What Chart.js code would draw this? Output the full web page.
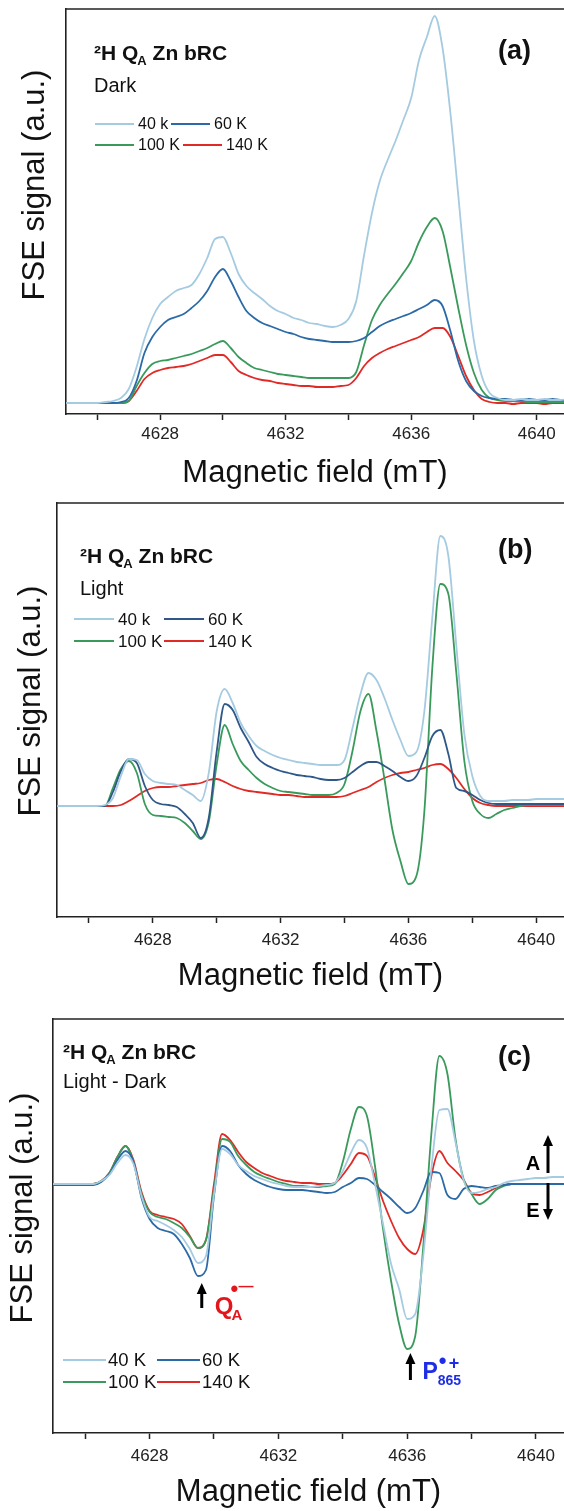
<!DOCTYPE html>
<html>
<head>
<meta charset="utf-8">
<script src="https://cdn.jsdelivr.net/npm/chart.js@4.4.1/dist/chart.umd.min.js"></script>
<style>
  html, body { margin: 0; padding: 0; background: #fff; overflow: hidden; }
  body { width: 564px; height: 1511px; position: relative; }
  .panel { position: absolute; left: 0; width: 564px; }
  canvas { display: block; }
</style>
</head>
<body>
<div class="panel" style="top:0"><canvas id="chartA" width="564" height="495"></canvas></div>
<div class="panel" style="top:495px"><canvas id="chartB" width="564" height="505"></canvas></div>
<div class="panel" style="top:1000px"><canvas id="chartC" width="564" height="511"></canvas></div>
<script>
// Magnetic field (mT), 0.25 mT steps
const field = [
  4625, 4625.25, 4625.5, 4625.75, 4626, 4626.25, 4626.5, 4626.75, 4627, 4627.25, 4627.5, 4627.75, 4628,
  4628.25, 4628.5, 4628.75, 4629, 4629.25, 4629.5, 4629.75, 4630, 4630.25, 4630.5, 4630.75, 4631, 4631.25,
  4631.5, 4631.75, 4632, 4632.25, 4632.5, 4632.75, 4633, 4633.25, 4633.5, 4633.75, 4634, 4634.25, 4634.5,
  4634.75, 4635, 4635.25, 4635.5, 4635.75, 4636, 4636.25, 4636.5, 4636.75, 4637, 4637.25, 4637.5, 4637.75,
  4638, 4638.25, 4638.5, 4638.75, 4639, 4639.25, 4639.5, 4639.75, 4640, 4640.25, 4640.5, 4640.75, 4641
];
const tickFields = [4626, 4628, 4630, 4632, 4634, 4636, 4638, 4640];
const labelFields = [4628, 4632, 4636, 4640];
const xMax = 4640.87;

// (a) Dark
const dark40 = [0,0,0,0,0,1,2,5,14,36,64,85,99,
  106,112,115,118,129,145,164,166,150,129,117,110,104,
  97,92,89,85,83,80,79,77,76,78,84,102,148,
  190,222,243,262,283,305,343,366,387,355,290,208,125,
  62,27,10,5,3,3,4,3,3,4,3,3,4];
const dark60 = [0,0,0,0,0,0,0,1,5,22,50,66,76,
  83,86,89,95,102,112,126,134,122,106,92,85,80,
  77,74,71,69,66,64,63,62,61,61,61,62,65,
  71,77,81,84,87,90,94,98,103,97,72,42,22,
  12,7,5,4,4,3,3,4,3,3,4,3,3];
const dark100 = [0,0,0,0,0,0,0,0,2,17,30,39,42,
  43,45,47,49,52,55,59,62,55,46,40,35,33,
  31,29,28,27,26,25,25,25,25,25,25,31,58,
  83,98,109,119,130,142,161,176,185,172,135,95,58,
  30,13,5,3,2,2,2,1,1,1,1,1,1];
const dark140 = [0,0,0,0,0,0,0,0,2,12,24,30,33,
  35,36,37,39,42,45,48,48,41,32,28,25,23,
  22,20,19,18,17,17,16,16,16,17,18,25,37,
  45,50,54,57,60,63,66,71,75,75,66,47,27,
  13,4,1,0,0,-1,0,0,0,-1,0,0,0];

// (b) Light
const light40 = [0,0,0,0,0,0,1,8,30,47,46,32,25,
  23,22,21,16,11,5,33,95,117,103,83,70,60,
  55,51,48,46,44,43,42,41,41,41,46,78,112,
  133,126,108,86,66,50,54,95,189,270,250,160,72,
  30,10,5,5,5,6,6,6,7,7,7,7,7];
const light60 = [0,0,0,0,0,0,0,14,35,47,43,20,6,
  2,1,-1,-8,-17,-32,-12,55,102,96,78,64,49,
  42,38,35,33,31,30,29,27,26,26,28,34,40,
  44,44,40,35,29,25,30,48,70,76,52,18,15,
  11,6,3,2,2,2,2,2,2,2,2,2,2];
const light100 = [0,0,0,0,0,0,0,18,37,45,33,2,-9,
  -10,-11,-12,-17,-25,-33,-16,42,81,62,45,36,28,
  22,18,15,14,13,12,11,11,11,13,22,55,95,
  112,75,27,-24,-55,-78,-70,-5,139,222,212,133,45,
  5,-8,-12,-8,-4,-2,0,1,1,1,1,1,1];
const light140 = [0,0,0,0,0,0,0,0,1,5,10,15,18,
  19,19,20,21,22,23,26,27,24,20,17,15,14,
  13,12,11,11,10,9,9,9,9,9,10,13,16,
  19,24,28,31,33,34,36,38,41,42,37,28,17,
  8,3,1,0,0,0,0,0,0,0,0,0,0];

// (c) Light - Dark
const diff40 = [0,0,0,0,0,0,3,9,21,29,20,-12,-33,
  -37,-41,-46,-53,-65,-79,-72,-10,35,30,19,13,8,
  5,2,0,-2,-3,-3,-3,-2,-1,1,13,31,44,
  36,0,-40,-80,-105,-135,-130,-72,15,74,75,42,4,
  -9,-8,-5,-3,1,3,4,5,6,6,7,7,7];
const diff60 = [-1,-1,-1,-1,-1,-1,2,10,24,33,22,-14,-35,
  -44,-47,-50,-60,-74,-92,-86,-12,38,33,19,10,4,
  0,-3,-5,-6,-6,-6,-7,-8,-9,-8,-3,1,6,
  5,-1,-8,-15,-23,-29,-24,-7,12,11,-11,-15,-5,
  -2,-3,-4,-2,-1,0,0,0,0,0,0,0,0];
const diff100 = [0,0,0,0,0,0,3,11,27,38,22,-10,-28,
  -33,-35,-39,-44,-53,-64,-56,-5,45,42,28,19,12,
  8,5,2,0,-2,-2,-3,-3,-2,0,22,55,77,
  68,18,-45,-97,-140,-165,-152,-62,50,128,110,45,5,
  -10,-20,-15,-6,-2,0,0,0,0,0,0,0,0];
const diff140 = [0,0,0,0,0,0,3,11,27,38,24,-8,-27,
  -31,-33,-35,-40,-52,-64,-56,0,50,44,32,22,16,
  11,8,5,3,2,1,1,0,0,1,9,20,31,
  28,7,-17,-37,-54,-65,-70,-46,8,33,21,13,4,
  -9,-11,-8,-4,-1,0,0,0,0,0,0,0,0];

const labelsAB = ['40 k', '60 K', '100 K', '140 K'];
const labelsC = ['40 K', '60 K', '100 K', '140 K'];

const FONT = 'Arial, "Liberation Sans", Helvetica, sans-serif';
const LIGHTBLUE = '#a5cbe1', GREEN = '#3a9a5c', RED = '#e02a26';

function sampleName(ctx, x, y, size) {
  ctx.textAlign = 'left';
  ctx.textBaseline = 'alphabetic';
  ctx.font = `bold ${size}px ${FONT}`;
  ctx.fillText('\u00B2H Q', x, y);
  x += ctx.measureText('\u00B2H Q').width;
  ctx.font = `bold ${Math.round(size * 0.62)}px ${FONT}`;
  ctx.fillText('A', x - 1, y + size * 0.25);
  x += ctx.measureText('A').width - 1;
  ctx.font = `bold ${size}px ${FONT}`;
  ctx.fillText(' Zn bRC', x, y);
}

function arrow(ctx, x, y0, y1) {
  const dir = y1 < y0 ? 1 : -1;
  ctx.lineWidth = 3;
  ctx.beginPath();
  ctx.moveTo(x, y0);
  ctx.lineTo(x, y1 + dir * 8);
  ctx.stroke();
  ctx.beginPath();
  ctx.moveTo(x, y1);
  ctx.lineTo(x - 5, y1 + dir * 11);
  ctx.lineTo(x + 5, y1 + dir * 11);
  ctx.closePath();
  ctx.fill();
}

const decor = {
  id: 'decor',
  afterDraw(chart, args, d) {
    const { ctx, chartArea: ca } = chart;
    const xs = chart.scales.x, ys = chart.scales.y;
    ctx.save();
    // top edge of the frame
    ctx.strokeStyle = '#222';
    ctx.lineWidth = 1.6;
    ctx.beginPath();
    ctx.moveTo(ca.left - 0.8, ca.top);
    ctx.lineTo(ca.right, ca.top);
    ctx.stroke();

    ctx.fillStyle = '#111';
    sampleName(ctx, d.nameX, d.nameY, 21);
    ctx.font = `20px ${FONT}`;
    ctx.fillText(d.cond, d.nameX, d.condY);

    ctx.font = `bold 27px ${FONT}`;
    ctx.textBaseline = 'middle';
    ctx.fillText(d.letter, 498, d.letterY);

    // legend, two items per row
    const lg = d.legend;
    ctx.font = `${lg.size}px ${FONT}`;
    chart.data.datasets.forEach((ds, i) => {
      const row = Math.floor(i / 2);
      const x = i % 2 === 0 ? lg.x : lg.col2[row];
      const y = lg.rows[row];
      ctx.strokeStyle = ds.borderColor;
      ctx.lineWidth = 2;
      ctx.beginPath();
      ctx.moveTo(x, y);
      ctx.lineTo(x + lg.len, y);
      ctx.stroke();
      ctx.fillStyle = '#111';
      ctx.fillText(ds.label, x + lg.len + lg.gap, y + 1);
    });

    // y axis title
    ctx.save();
    ctx.translate(d.yTitle[0], d.yTitle[1]);
    ctx.rotate(-Math.PI / 2);
    ctx.font = `31px ${FONT}`;
    ctx.textAlign = 'center';
    ctx.fillStyle = '#111';
    ctx.fillText('FSE signal (a.u.)', 0, 0);
    ctx.restore();

    if (d.marks) {
      ctx.fillStyle = '#000';
      ctx.strokeStyle = '#000';
      ctx.textBaseline = 'alphabetic';
      // Q_A radical anion
      const q = d.marks.q;
      let ax = xs.getPixelForValue(q.field), tip = ys.getPixelForValue(q.tip), tail = ys.getPixelForValue(q.tail);
      arrow(ctx, ax, tail, tip);
      ctx.fillStyle = '#e3161b';
      ctx.font = `bold 24px ${FONT}`;
      ctx.fillText('Q', ax + 13, tail + 6);
      let w = ctx.measureText('Q').width;
      ctx.font = `bold 15px ${FONT}`;
      ctx.fillText('A', ax + 13 + w - 2, tail + 12);
      ctx.font = `bold 22px ${FONT}`;
      ctx.fillText('\u2022', ax + 13 + w - 3, tail - 12);
      ctx.font = `bold 15px ${FONT}`;
      ctx.fillText('\u2014', ax + 13 + w + 5, tail - 17);
      // P865 radical cation
      const p = d.marks.p;
      ax = xs.getPixelForValue(p.field); tip = ys.getPixelForValue(p.tip); tail = ys.getPixelForValue(p.tail);
      ctx.fillStyle = '#000';
      arrow(ctx, ax, tail, tip);
      ctx.fillStyle = '#1f2ee6';
      ctx.font = `bold 23px ${FONT}`;
      ctx.fillText('P', ax + 12, tail - 1);
      w = ctx.measureText('P').width;
      ctx.font = `bold 14px ${FONT}`;
      ctx.fillText('865', ax + 12 + w, tail + 5);
      ctx.font = `bold 22px ${FONT}`;
      ctx.fillText('\u2022', ax + 12 + w + 1, tail - 12);
      ctx.font = `bold 18px ${FONT}`;
      ctx.fillText('+', ax + 12 + w + 11, tail - 11);
      // absorption / emission
      const ex = ca.right - 16;
      ctx.fillStyle = '#000';
      arrow(ctx, ex, ys.getPixelForValue(11), ys.getPixelForValue(49));
      arrow(ctx, ex, ys.getPixelForValue(1), ys.getPixelForValue(-36));
      ctx.font = `bold 20px ${FONT}`;
      ctx.textAlign = 'center';
      ctx.textBaseline = 'middle';
      ctx.fillText('A', ex - 15, ys.getPixelForValue(20));
      ctx.fillText('E', ex - 15, ys.getPixelForValue(-27));
    }
    ctx.restore();
  }
};

function makePanel(id, p) {
  return new Chart(document.getElementById(id), {
    type: 'line',
    data: {
      datasets: p.series.map((vals, i) => ({
        label: p.labels[i],
        data: field.map((f, k) => ({ x: f, y: vals[k] })),
        borderColor: p.colors[i],
        borderWidth: 1.8,
        pointRadius: 0,
        cubicInterpolationMode: 'monotone',
        fill: false
      }))
    },
    options: {
      responsive: false,
      animation: false,
      devicePixelRatio: 1,
      layout: { padding: { top: p.top, left: 0, right: 0, bottom: 0 } },
      plugins: { legend: { display: false }, tooltip: { enabled: false }, decor: p.decor },
      scales: {
        x: {
          type: 'linear',
          min: 4625,
          max: xMax,
          afterBuildTicks: s => { s.ticks = tickFields.map(v => ({ value: v })); },
          afterFit: s => { s.height = p.height - p.bottom; },
          ticks: {
            autoSkip: false, maxRotation: 0, padding: p.tickPad, color: '#222',
            font: { family: FONT, size: 17 },
            callback: v => labelFields.includes(v) ? String(v) : ''
          },
          grid: { drawOnChartArea: false, drawTicks: true, tickLength: 6, tickColor: '#222', tickWidth: 1.5 },
          border: { display: true, color: '#222', width: 1.6 },
          title: {
            display: true, text: 'Magnetic field (mT)', color: '#111',
            font: { family: FONT, size: 31 }, padding: { top: 0, bottom: p.titlePad }
          }
        },
        y: {
          min: p.yMin,
          max: p.yMax,
          afterFit: s => { s.width = p.left; },
          ticks: { display: false },
          grid: { drawOnChartArea: false, drawTicks: false },
          border: { display: true, color: '#222', width: 1.6 }
        }
      }
    },
    plugins: [decor]
  });
}

makePanel('chartA', {
  series: [dark40, dark60, dark100, dark140], labels: labelsAB,
  colors: [LIGHTBLUE, '#2b6aa6', GREEN, RED],
  height: 495, top: 9, bottom: 414, left: 66, yMin: -11, yMax: 394, tickPad: 4, titlePad: 3,
  decor: {
    nameX: 94, nameY: 60, cond: 'Dark', condY: 92, letter: '(a)', letterY: 52,
    legend: { x: 95, len: 39, gap: 4, size: 16, rows: [124, 145], col2: [171, 183] },
    yTitle: [35, 185]
  }
});

makePanel('chartB', {
  series: [light40, light60, light100, light140], labels: labelsAB,
  colors: [LIGHTBLUE, '#2f5888', GREEN, RED],
  height: 505, top: 8, bottom: 422, left: 57, yMin: -111, yMax: 303, tickPad: 7, titlePad: 5,
  decor: {
    nameX: 80, nameY: 68, cond: 'Light', condY: 100, letter: '(b)', letterY: 56,
    legend: { x: 74, len: 40, gap: 4, size: 17, rows: [124, 146], col2: [164, 164] },
    yTitle: [31, 206]
  }
});

makePanel('chartC', {
  series: [diff40, diff60, diff100, diff140], labels: labelsC,
  colors: [LIGHTBLUE, '#2b6aa6', GREEN, RED],
  height: 511, top: 19, bottom: 433, left: 53, yMin: -249, yMax: 165, tickPad: 7, titlePad: 0,
  decor: {
    nameX: 63, nameY: 59, cond: 'Light - Dark', condY: 88, letter: '(c)', letterY: 58,
    legend: { x: 63, len: 43, gap: 2, size: 18.5, rows: [360, 382], col2: [157, 157] },
    yTitle: [23, 208],
    marks: {
      q: { field: 4629.62, tip: -99, tail: -124 },
      p: { field: 4636.1, tip: -169, tail: -196 }
    }
  }
});
</script>
</body>
</html>
